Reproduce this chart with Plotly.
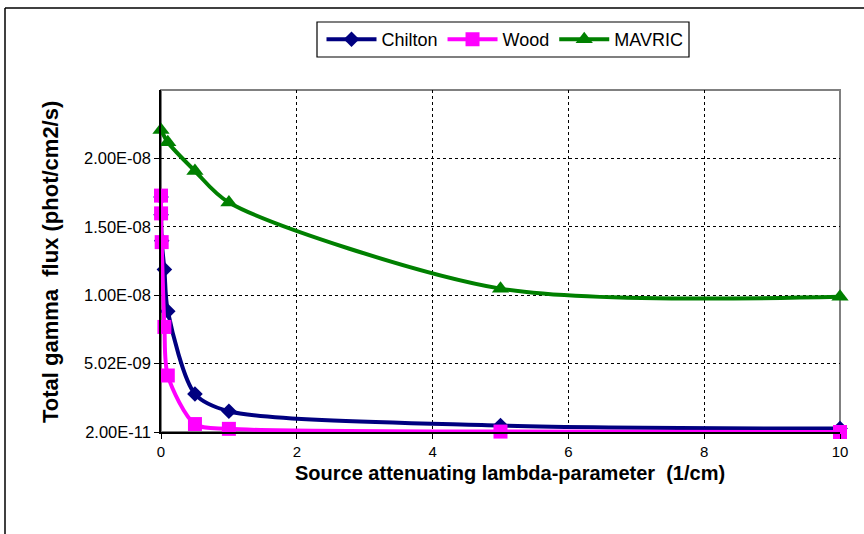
import plotly.graph_objects as go

# Source attenuating lambda-parameter (1/cm)
lam = [0, 0.001, 0.01, 0.05, 0.1, 0.5, 1, 5, 10]
chilton = [17.2e-9, 15.9e-9, 14.0e-9, 11.9e-9, 8.85e-9, 2.8e-9, 1.54e-9, 0.49e-9, 0.27e-9]
wood = [17.3e-9, 16.0e-9, 13.9e-9, 7.7e-9, 4.15e-9, 0.6e-9, 0.25e-9, 0.05e-9, 0.02e-9]

lam_mavric = [0, 0.1, 0.5, 1, 5, 10]
mavric = [22.1e-9, 21.2e-9, 19.1e-9, 16.8e-9, 10.5e-9, 9.9e-9]

y_tick_vals = [2e-11, 5.02e-9, 1.002e-8, 1.502e-8, 2.002e-8]
y_tick_text = ["2.00E-11", "5.02E-09", "1.00E-08", "1.50E-08", "2.00E-08"]
x_tick_vals = [0, 2, 4, 6, 8, 10]

x_title = "Source attenuating lambda-parameter  (1/cm)"
y_title = "Total gamma  flux (phot/cm2/s)"

W, H = 864, 534
ML, MR, MT, MB = 161, 24, 90, 102
PW, PH = W - ML - MR, H - MT - MB

FONT = "Liberation Sans, Arial, sans-serif"

fig = go.Figure()
fig.add_trace(go.Scatter(
    x=lam, y=chilton, name="Chilton", mode="lines+markers", cliponaxis=False,
    line=dict(color="#000080", width=4, shape="spline", smoothing=0.8),
    marker=dict(symbol="diamond", size=12, color="#000080"),
))
fig.add_trace(go.Scatter(
    x=lam, y=wood, name="Wood", mode="lines+markers", cliponaxis=False,
    line=dict(color="#FF00FF", width=4, shape="spline", smoothing=0.8),
    marker=dict(symbol="square", size=14, color="#FF00FF"),
))
fig.add_trace(go.Scatter(
    x=lam_mavric, y=mavric, name="MAVRIC", mode="lines+markers", cliponaxis=False,
    line=dict(color="#008000", width=4, shape="spline", smoothing=0.8),
    marker=dict(symbol="triangle-up", size=15, color="#008000"),
))


def px(xp):
    return (xp - ML) / PW


def py(yp):
    return (H - MB - yp) / PH


shapes = [
    # grey plot-area frame (top and right)
    dict(type="rect", xref="paper", yref="paper", x0=0, x1=1, y0=0, y1=1,
         line=dict(color="#808080", width=2), layer="between"),
    # outer chart frame
    dict(type="line", xref="paper", yref="paper", x0=px(5), x1=px(870), y0=py(8), y1=py(8),
         line=dict(color="black", width=1.5)),
    dict(type="line", xref="paper", yref="paper", x0=px(5), x1=px(5), y0=py(8), y1=py(540),
         line=dict(color="black", width=1.5)),
    # legend box
    dict(type="rect", xref="paper", yref="paper", x0=px(317), x1=px(689), y0=py(57), y1=py(22),
         line=dict(color="black", width=1.2), fillcolor="rgba(0,0,0,0)"),
]

annotations = [
    dict(text="<b>" + x_title + "</b>", xref="paper", yref="paper",
         x=px(510), y=py(473), xanchor="center", yanchor="middle", showarrow=False,
         font=dict(family=FONT, size=20, color="black")),
    dict(text="<b>" + y_title + "</b>", xref="paper", yref="paper", textangle=-90,
         x=px(50), y=py(262), xanchor="center", yanchor="middle", showarrow=False,
         font=dict(family=FONT, size=22, color="black")),
]

fig.update_layout(
    width=W, height=H,
    margin=dict(l=ML, r=MR, t=MT, b=MB, pad=0),
    paper_bgcolor="white", plot_bgcolor="white",
    font=dict(family=FONT, size=13, color="black"),
    showlegend=True,
    legend=dict(
        orientation="h", x=px(505), xanchor="center", y=py(39.5), yanchor="middle",
        borderwidth=0, bgcolor="rgba(0,0,0,0)",
        font=dict(family=FONT, size=18, color="black"),
        itemwidth=50, tracegroupgap=0,
    ),
    shapes=shapes,
    annotations=annotations,
    xaxis=dict(
        range=[0, 10], tickvals=x_tick_vals, ticks="outside", ticklen=5,
        tickcolor="black", showline=True, linecolor="black", linewidth=1.5,
        showgrid=True, gridcolor="black", griddash="dot", gridwidth=1,
        zeroline=False, tickfont=dict(size=15),
    ),
    yaxis=dict(
        range=[2e-11, 2.502e-8], tickvals=y_tick_vals, ticktext=y_tick_text,
        ticks="outside", ticklen=5, tickcolor="black",
        showline=True, linecolor="black", linewidth=1.5,
        showgrid=True, gridcolor="black", griddash="dot", gridwidth=1,
        zeroline=False, tickfont=dict(size=16.5),
    ),
)

fig.write_html("out.html")
